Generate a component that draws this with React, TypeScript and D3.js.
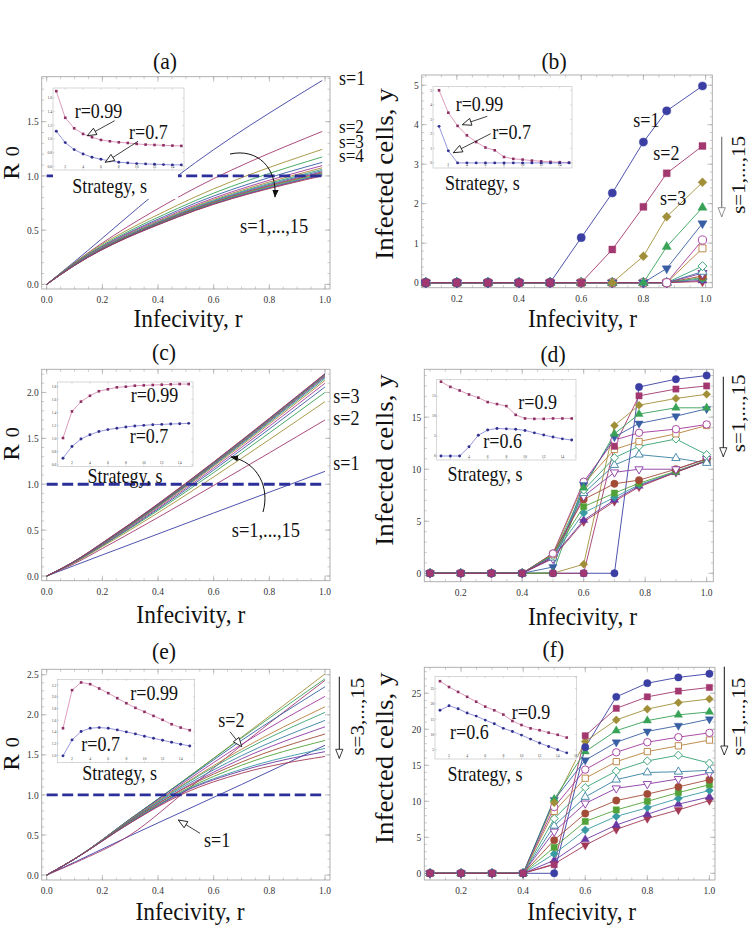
import React from "react";
import * as d3 from "d3";

const FONT = '"Liberation Serif", "Times New Roman", serif';
const SQ = 0.9; // the reference text is slightly condensed horizontally

// Mathematica-like default colours and markers for s = 1..15
const SERIES_COLORS = [
  "#3b3fa3", "#a2386f", "#a18e38", "#38a257", "#385ea3",
  "#a2389c", "#b8803c", "#38a275", "#3880a3", "#8a38a3",
  "#a24c38", "#52a238", "#389aa3", "#6a38a3", "#a23854",
];
const MARKERS = [
  "circle", "square", "diamond", "up", "down",
  "ocircle", "osquare", "odiamond", "oup", "odown",
  "circle", "square", "diamond", "up", "down",
];
const STRATEGY = [1, 2, 3, 4, 5, 6, 7, 8, 9, 10, 11, 12, 13, 14, 15];

// ---------- panel (a): R0 vs r ----------
const rA = [0, 0.1, 0.47, 0.99];
const r0A = [
  [0, 0.21, 1.0, 1.88],
  [0, 0.2, 0.8, 1.41],
  [0, 0.2, 0.73, 1.245],
  [0, 0.195, 0.7, 1.175],
  [0, 0.19, 0.68, 1.125],
  [0, 0.19, 0.665, 1.095],
  [0, 0.185, 0.655, 1.075],
  [0, 0.185, 0.648, 1.06],
  [0, 0.18, 0.642, 1.048],
  [0, 0.18, 0.637, 1.038],
  [0, 0.178, 0.633, 1.03],
  [0, 0.177, 0.629, 1.022],
  [0, 0.176, 0.625, 1.015],
  [0, 0.175, 0.622, 1.008],
  [0, 0.174, 0.619, 1.0],
];
const insetA99 = [1.7, 1.31, 1.156, 1.073, 1.025, 0.985, 0.966, 0.951, 0.941, 0.927, 0.917, 0.912, 0.907, 0.902, 0.898];
const insetA70 = [1.112, 0.946, 0.844, 0.78, 0.732, 0.702, 0.678, 0.659, 0.649, 0.639, 0.634, 0.63, 0.624, 0.62, 0.62];

// ---------- panel (b): infected cells vs r ----------
const rB = [0.1, 0.2, 0.3, 0.4, 0.5, 0.6, 0.7, 0.8, 0.875, 0.99];
const cellsB = [
  [0, 0, 0, 0, 0, 1.14, 2.27, 3.56, 4.35, 4.98],
  [0, 0, 0, 0, 0, 0, 0.84, 1.92, 2.77, 3.46],
  [0, 0, 0, 0, 0, 0, 0, 0.67, 1.67, 2.54],
  [0, 0, 0, 0, 0, 0, 0, 0, 0.91, 1.9],
  [0, 0, 0, 0, 0, 0, 0, 0, 0.36, 1.5],
  [0, 0, 0, 0, 0, 0, 0, 0, 0, 1.08],
  [0, 0, 0, 0, 0, 0, 0, 0, 0, 0.87],
  [0, 0, 0, 0, 0, 0, 0, 0, 0, 0.42],
  [0, 0, 0, 0, 0, 0, 0, 0, 0, 0.28],
  [0, 0, 0, 0, 0, 0, 0, 0, 0, 0.24],
  [0, 0, 0, 0, 0, 0, 0, 0, 0, 0.17],
  [0, 0, 0, 0, 0, 0, 0, 0, 0, 0.13],
  [0, 0, 0, 0, 0, 0, 0, 0, 0, 0.1],
  [0, 0, 0, 0, 0, 0, 0, 0, 0, 0.06],
  [0, 0, 0, 0, 0, 0, 0, 0, 0, 0.03],
];
const insetB99 = [5.0, 3.46, 2.55, 1.9, 1.44, 1.06, 0.87, 0.41, 0.28, 0.23, 0.16, 0.11, 0.07, 0.05, 0.02];
const insetB70 = [2.52, 0.83, 0, 0, 0, 0, 0, 0, 0, 0, 0, 0, 0, 0, 0];

// ---------- panel (c): R0 vs r ----------
const rC = [0, 0.1, 0.2, 1.0];
const r0C = [
  [0, 0.115, 0.23, 1.14],
  [0, 0.135, 0.3, 1.7],
  [0, 0.145, 0.32, 1.9],
  [0, 0.15, 0.33, 2.0],
  [0, 0.152, 0.335, 2.06],
  [0, 0.154, 0.34, 2.1],
  [0, 0.155, 0.345, 2.13],
  [0, 0.156, 0.348, 2.15],
  [0, 0.157, 0.35, 2.165],
  [0, 0.158, 0.352, 2.175],
  [0, 0.159, 0.354, 2.185],
  [0, 0.16, 0.356, 2.19],
  [0, 0.16, 0.358, 2.195],
  [0, 0.161, 0.36, 2.2],
  [0, 0.162, 0.362, 2.205],
];
const insetC99 = [1.01, 1.42, 1.57, 1.66, 1.73, 1.76, 1.79, 1.8, 1.815, 1.82, 1.826, 1.83, 1.836, 1.84, 1.84];
const insetC70 = [0.7, 0.88, 0.995, 1.06, 1.11, 1.14, 1.16, 1.18, 1.195, 1.205, 1.215, 1.22, 1.226, 1.23, 1.236];

// ---------- panel (d): infected cells vs r ----------
const rD = [0.1, 0.2, 0.3, 0.4, 0.5, 0.6, 0.7, 0.78, 0.9, 1.0];
const cellsD = [
  [0, 0, 0, 0, 0, 0, 0, 17.9, 18.65, 19.0],
  [0, 0, 0, 0, 0, 0, 12.2, 17.05, 17.7, 18.0],
  [0, 0, 0, 0, 0, 0.87, 14.2, 16.15, 16.8, 17.2],
  [0, 0, 0, 0, 0.05, 8.2, 13.4, 15.3, 15.9, 15.9],
  [0, 0, 0, 0, 0.6, 8.5, 13.1, 14.4, 15.1, 15.8],
  [0, 0, 0, 0, 1.9, 8.8, 12.8, 13.5, 13.85, 14.3],
  [0, 0, 0, 0, 1.8, 8.6, 11.9, 12.66, 13.4, 14.2],
  [0, 0, 0, 0, 1.7, 8.0, 11.1, 12.2, 12.9, 11.4],
  [0, 0, 0, 0, 1.5, 7.7, 10.4, 11.4, 11.06, 10.6],
  [0, 0, 0, 0, 1.4, 7.4, 9.7, 10.0, 10.0, 11.0],
  [0, 0, 0, 0, 1.9, 7.1, 8.6, 8.95, 10.0, 11.0],
  [0, 0, 0, 0, 1.8, 6.4, 7.7, 8.65, 9.8, 10.85],
  [0, 0, 0, 0, 1.7, 5.8, 7.3, 8.5, 9.75, 10.8],
  [0, 0, 0, 0, 1.6, 5.1, 7.05, 8.4, 9.7, 10.8],
  [0, 0, 0, 0, 1.5, 4.95, 6.9, 8.3, 9.7, 10.8],
];
const insetD90 = [18.6, 17.3, 16.4, 15.4, 14.6, 13.5, 13.0, 12.5, 10.3, 9.4, 9.3, 9.3, 9.4, 9.4, 9.4];
const insetD60 = [0, 0, 0, 2.3, 5.2, 6.5, 6.9, 6.8, 6.7, 6.4, 5.8, 5.25, 4.75, 4.3, 4.0];

// ---------- panel (e): R0 vs r ----------
const rE = [0, 0.1, 0.3, 0.5, 0.7, 1.0];
const r0E = [
  [0, 0.16, 0.49, 0.81, 1.13, 1.62],
  [0, 0.15, 0.5, 1.05, 1.62, 2.43],
  [0, 0.2, 0.7, 1.2, 1.72, 2.51],
  [0, 0.2, 0.7, 1.2, 1.71, 2.45],
  [0, 0.2, 0.7, 1.19, 1.68, 2.35],
  [0, 0.2, 0.69, 1.17, 1.63, 2.23],
  [0, 0.2, 0.69, 1.15, 1.57, 2.1],
  [0, 0.2, 0.68, 1.14, 1.54, 2.03],
  [0, 0.2, 0.68, 1.12, 1.49, 1.93],
  [0, 0.2, 0.67, 1.1, 1.45, 1.85],
  [0, 0.2, 0.67, 1.09, 1.41, 1.76],
  [0, 0.2, 0.66, 1.07, 1.37, 1.68],
  [0, 0.2, 0.66, 1.06, 1.32, 1.58],
  [0, 0.2, 0.65, 1.05, 1.3, 1.54],
  [0, 0.2, 0.65, 1.03, 1.27, 1.48],
];
const insetE99 = [1.463, 2.114, 2.246, 2.217, 2.143, 2.063, 1.977, 1.891, 1.811, 1.743, 1.674, 1.606, 1.531, 1.474, 1.429];
const insetE70 = [0.99, 1.263, 1.406, 1.463, 1.474, 1.463, 1.434, 1.4, 1.366, 1.326, 1.291, 1.257, 1.223, 1.189, 1.16];

// ---------- panel (f): infected cells vs r ----------
const rF = [0.1, 0.2, 0.3, 0.4, 0.5, 0.6, 0.7, 0.8, 0.9, 1.0];
const cellsF = [
  [0, 0, 0, 0, 0, 17.5, 24.5, 26.4, 27.2, 27.7],
  [0, 0, 0, 0, 1.2, 19.1, 22.9, 24.5, 25.3, 25.8],
  [0, 0, 0, 0, 9.8, 18.3, 21.3, 22.8, 23.7, 24.2],
  [0, 0, 0, 0, 10.3, 16.9, 19.8, 21.2, 22.0, 22.4],
  [0, 0, 0, 0, 10.2, 15.7, 18.2, 19.7, 20.5, 21.4],
  [0, 0, 0, 0, 9.2, 14.4, 16.8, 18.2, 18.9, 19.5],
  [0, 0, 0, 0, 8.6, 13.2, 15.5, 16.9, 17.7, 18.5],
  [0, 0, 0, 0, 7.6, 11.9, 14.2, 15.6, 16.4, 15.3],
  [0, 0, 0, 0, 6.6, 10.6, 13.0, 14.0, 14.1, 14.3],
  [0, 0, 0, 0, 5.8, 9.7, 11.8, 12.4, 13.1, 13.9],
  [0, 0, 0, 0, 4.6, 8.3, 10.1, 11.0, 12.0, 13.0],
  [0, 0, 0, 0, 3.6, 7.2, 8.8, 10.0, 11.2, 12.3],
  [0, 0, 0, 0, 2.7, 6.0, 7.9, 9.1, 10.4, 11.5],
  [0, 0, 0, 0, 1.8, 4.7, 6.7, 8.2, 9.6, 10.6],
  [0, 0, 0, 0, 1.3, 3.9, 6.1, 7.6, 8.8, 10.1],
];
const insetF90 = [27.4, 25.5, 23.9, 22.3, 20.7, 19.1, 17.9, 16.5, 14.4, 13.1, 12.0, 11.4, 10.6, 9.9, 9.0];
const insetF60 = [17.9, 19.4, 18.4, 17.0, 16.0, 14.7, 13.5, 12.0, 11.0, 9.8, 8.5, 7.2, 6.1, 5.0, 4.0];

// ---------- tick labels ----------
const xTicksLeft = [0, 0.2, 0.4, 0.6, 0.8, 1.0];
const xTicksRight = [0.2, 0.4, 0.6, 0.8, 1.0];
const yTicksA = [0, 0.5, 1.0, 1.5];
const yTicksC = [0, 0.5, 1.0, 1.5, 2.0];
const yTicksE = [0, 0.5, 1.0, 1.5, 2.0, 2.5];
const yTicksB = [0, 1, 2, 3, 4, 5];
const yTicksD = [0, 5, 10, 15];
const yTicksF = [0, 5, 10, 15, 20, 25];
const insetXTicks = [2, 4, 6, 8, 10, 12, 14];
const insetXTicksF = [2, 4, 6, 8, 10, 12, 14, 16];
const insetYTicksA = [0.6, 0.8, 1.0, 1.2, 1.4, 1.6];
const insetYTicksB = [0, 1, 2, 3, 4, 5];
const insetYTicksC = [0.6, 0.8, 1.0, 1.2, 1.4, 1.6, 1.8];
const insetYTicksD = [0, 5, 10, 15];
const insetYTicksE = [1.0, 1.2, 1.4, 1.6, 1.8, 2.0, 2.2];
const insetYTicksF = [5, 10, 15, 20, 25];

type Box = { l: number; r: number; t: number; b: number };

function minorTicks(dom: number[], step: number) {
  const a = Math.ceil(dom[0] / step - 1e-9);
  const b = Math.floor(dom[1] / step + 1e-9);
  return d3.range(a, b + 1).map((i) => +(i * step).toFixed(6));
}

function Txt({ x, y, size, anchor = "middle", rot = 0, fill = "#111", children }: any) {
  const tr = rot
    ? `translate(${x},${y}) rotate(${rot}) scale(1,${SQ})`
    : `translate(${x},${y}) scale(${SQ},1)`;
  return (
    <text transform={tr} fontSize={size} textAnchor={anchor} fontFamily={FONT} fill={fill}>
      {children}
    </text>
  );
}

function Axes({ fr, xs, ys, xMajor, yMajor, xMinorStep, yMinorStep, xFmt, yFmt }: any) {
  const col = "#9a9a9a";
  const xMin = minorTicks(xs.domain(), xMinorStep);
  const yMin = minorTicks(ys.domain(), yMinorStep);
  return (
    <g>
      <rect x={fr.l} y={fr.t} width={fr.r - fr.l} height={fr.b - fr.t} fill="white" stroke="#a8a8a8" strokeWidth={0.9} />
      {xMin.map((v) => (
        <g key={"xm" + v} stroke={col} strokeWidth={0.5}>
          <line x1={xs(v)} x2={xs(v)} y1={fr.b} y2={fr.b - 2.5} />
          <line x1={xs(v)} x2={xs(v)} y1={fr.t} y2={fr.t + 2.5} />
        </g>
      ))}
      {yMin.map((v) => (
        <g key={"ym" + v} stroke={col} strokeWidth={0.5}>
          <line x1={fr.l} x2={fr.l + 2.5} y1={ys(v)} y2={ys(v)} />
          <line x1={fr.r} x2={fr.r - 2.5} y1={ys(v)} y2={ys(v)} />
        </g>
      ))}
      {xMajor.map((v: number) => (
        <g key={"xM" + v}>
          <line x1={xs(v)} x2={xs(v)} y1={fr.b} y2={fr.b - 5} stroke={col} strokeWidth={0.6} />
          <line x1={xs(v)} x2={xs(v)} y1={fr.t} y2={fr.t + 5} stroke={col} strokeWidth={0.6} />
          <Txt x={xs(v)} y={fr.b + 14} size={10.5} fill="#333">{xFmt(v)}</Txt>
        </g>
      ))}
      {yMajor.map((v: number) => (
        <g key={"yM" + v}>
          <line x1={fr.l} x2={fr.l + 5} y1={ys(v)} y2={ys(v)} stroke={col} strokeWidth={0.6} />
          <line x1={fr.r} x2={fr.r - 5} y1={ys(v)} y2={ys(v)} stroke={col} strokeWidth={0.6} />
          <Txt x={fr.l - 3} y={ys(v) + 3.6} size={10.5} anchor="end" fill="#333">{yFmt(v)}</Txt>
        </g>
      ))}
    </g>
  );
}

function Marker({ shape, x, y, color, size }: any) {
  const open = shape.startsWith("o");
  const base = open ? shape.slice(1) : shape;
  let type: any = d3.symbolCircle;
  let area = Math.PI * (size / 2) * (size / 2);
  let rot = 0;
  if (base === "square") { type = d3.symbolSquare; area = size * size * 0.72; }
  if (base === "diamond") { type = d3.symbolSquare; area = size * size * 0.6; rot = 45; }
  if (base === "up") { type = d3.symbolTriangle; area = size * size * 0.55; }
  if (base === "down") { type = d3.symbolTriangle; area = size * size * 0.55; rot = 180; }
  const d = d3.symbol(type, area)() as string;
  return (
    <path
      d={d}
      transform={`translate(${x},${y}) rotate(${rot})`}
      fill={open ? "white" : color}
      stroke={color}
      strokeWidth={open ? 0.9 : 0.4}
    />
  );
}

function LinePanel({ xs, ys, rs, series, clip }: any) {
  const gen = d3.line<number>().x((_, i) => xs(rs[i])).y((v) => ys(v)).curve(d3.curveMonotoneX);
  return (
    <g clipPath={`url(#${clip})`}>
      {series.map((vals: number[], i: number) => (
        <path key={i} d={gen(vals) as string} fill="none" stroke={SERIES_COLORS[i]} strokeWidth={0.9} />
      ))}
    </g>
  );
}

function MarkerPanel({ xs, ys, rs, series, size }: any) {
  const gen = d3.line<number>().x((_, i) => xs(rs[i])).y((v) => ys(v));
  // drawing order so that s=2 squares end up on top of the zero row, as in the figure
  const order = [14, 13, 12, 11, 10, 9, 8, 7, 6, 5, 4, 3, 2, 0, 1];
  return (
    <g>
      {series.map((vals: number[], i: number) => (
        <path key={i} d={gen(vals) as string} fill="none" stroke={SERIES_COLORS[i]} strokeWidth={0.9} />
      ))}
      {order.map((i) => (
        <g key={"m" + i}>
          {series[i].map((v: number, j: number) => (
            <Marker key={j} shape={MARKERS[i]} x={xs(rs[j])} y={ys(v)} color={SERIES_COLORS[i]} size={size} />
          ))}
        </g>
      ))}
    </g>
  );
}

function Inset({ fr, xDom, yDom, xTicks, yTicks, yFmt, upper, lower, bg }: any) {
  const xs = d3.scaleLinear().domain(xDom).range([fr.l, fr.r]);
  const ys = d3.scaleLinear().domain(yDom).range([fr.b, fr.t]);
  const gen = d3.line<number>().x((_, i) => xs(STRATEGY[i])).y((v) => ys(v));
  const yMin = d3.min(yDom as number[]) as number;
  const yMax = d3.max(yDom as number[]) as number;
  return (
    <g>
      <rect x={bg.l} y={bg.t} width={bg.r - bg.l} height={bg.b - bg.t} fill="white" />
      <rect x={fr.l} y={fr.t} width={fr.r - fr.l} height={fr.b - fr.t} fill="white" stroke="#bdbdbd" strokeWidth={0.6} />
      {xTicks.filter((t: number) => t <= xDom[1]).map((t: number) => (
        <g key={"x" + t}>
          <line x1={xs(t)} x2={xs(t)} y1={fr.b} y2={fr.b - 1.8} stroke="#aaa" strokeWidth={0.4} />
          <line x1={xs(t)} x2={xs(t)} y1={fr.t} y2={fr.t + 1.8} stroke="#aaa" strokeWidth={0.4} />
          <text x={xs(t)} y={fr.b - 2.4} fontSize={3.8} textAnchor="middle" fontFamily={FONT} fill="#444">{t}</text>
        </g>
      ))}
      {yTicks.filter((t: number) => t >= yMin && t <= yMax).map((t: number) => (
        <g key={"y" + t}>
          <line x1={fr.l} x2={fr.l + 1.8} y1={ys(t)} y2={ys(t)} stroke="#aaa" strokeWidth={0.4} />
          <line x1={fr.r} x2={fr.r - 1.8} y1={ys(t)} y2={ys(t)} stroke="#aaa" strokeWidth={0.4} />
          <text x={fr.l - 0.8} y={ys(t) + 1.4} fontSize={3.8} textAnchor="end" fontFamily={FONT} fill="#444">{yFmt(t)}</text>
        </g>
      ))}
      <path d={gen(upper) as string} fill="none" stroke="#d283ab" strokeWidth={0.8} />
      <path d={gen(lower) as string} fill="none" stroke="#7c7cd6" strokeWidth={0.8} />
      {upper.map((v: number, i: number) => (
        <rect key={"u" + i} x={xs(STRATEGY[i]) - 1.3} y={ys(v) - 1.3} width={2.6} height={2.6} fill="#8e2f64" />
      ))}
      {lower.map((v: number, i: number) => (
        <circle key={"l" + i} cx={xs(STRATEGY[i])} cy={ys(v)} r={1.45} fill="#30308e" />
      ))}
    </g>
  );
}

const f1 = d3.format(".1f");
const f0 = d3.format("d");

export default function App() {
  // ----- frames -----
  const frA: Box = { l: 41.7, r: 330, t: 76.7, b: 289 };
  const frC: Box = { l: 41.7, r: 330, t: 369.3, b: 580.7 };
  const frE: Box = { l: 41.7, r: 330, t: 669.3, b: 880 };
  const frB: Box = { l: 421.7, r: 712.3, t: 75, b: 287.7 };
  const frD: Box = { l: 424.3, r: 713.3, t: 369.3, b: 581.7 };
  const frF: Box = { l: 424.3, r: 715, t: 667.3, b: 880 };

  const xLeft = (fr: Box) => d3.scaleLinear().domain([-0.018, 1.018]).range([fr.l, fr.r]);
  const xsA = xLeft(frA);
  const xsC = xLeft(frC);
  const xsE = xLeft(frE);
  const ysA = d3.scaleLinear().domain([-0.043, 1.915]).range([frA.b, frA.t]);
  const ysC = d3.scaleLinear().domain([-0.051, 2.252]).range([frC.b, frC.t]);
  const ysE = d3.scaleLinear().domain([-0.062, 2.568]).range([frE.b, frE.t]);

  const xsB = d3.scaleLinear().domain([0.087, 1.0216]).range([frB.l, frB.r]);
  const ysB = d3.scaleLinear().domain([-0.127, 5.258]).range([frB.b, frB.t]);
  const xsD = d3.scaleLinear().domain([0.0815, 1.0216]).range([frD.l, frD.r]);
  const ysD = d3.scaleLinear().domain([-0.81, 19.6]).range([frD.b, frD.t]);
  const xsF = d3.scaleLinear().domain([0.0816, 1.018]).range([frF.l, frF.r]);
  const ysF = d3.scaleLinear().domain([-0.93, 28.6]).range([frF.b, frF.t]);

  const dashed = (xs: any, ys: any) => (
    <line x1={xs(0)} x2={xs(1)} y1={ys(1)} y2={ys(1)} stroke="#2b2f9a" strokeWidth={2.8} strokeDasharray="11,4.5" />
  );

  const yLabelR0 = (cy: number) => (
    <text transform={`translate(19,${cy}) rotate(-90) scale(1,${SQ})`} fontFamily={FONT} fontSize={25} textAnchor="middle" fill="#111">
      R<tspan dx={7} fontSize={20}>0</tspan>
    </text>
  );

  return (
    <div>
      <style>{`body{margin:0;background:#fff}`}</style>
      <svg width={750} height={929} viewBox="0 0 750 929" style={{ display: "block", background: "white" }}>
        <defs>
          {[frA, frC, frE].map((fr, i) => (
            <clipPath key={i} id={"clip" + i}>
              <rect x={fr.l} y={fr.t} width={fr.r - fr.l} height={fr.b - fr.t} />
            </clipPath>
          ))}
          <marker id="headFill" viewBox="0 0 10 8" refX={9} refY={4} markerWidth={8} markerHeight={6.4} markerUnits="userSpaceOnUse" orient="auto">
            <path d="M0,0 L10,4 L0,8 z" fill="#111" />
          </marker>
          <marker id="headOpen" viewBox="0 0 12 10" refX={11} refY={5} markerWidth={11} markerHeight={9} markerUnits="userSpaceOnUse" orient="auto">
            <path d="M1,1 L11,5 L1,9 z" fill="white" stroke="#111" strokeWidth={0.9} />
          </marker>
          <marker id="headGray" viewBox="0 0 12 10" refX={11} refY={5} markerWidth={11} markerHeight={9} markerUnits="userSpaceOnUse" orient="auto">
            <path d="M1,1 L11,5 L1,9 z" fill="white" stroke="#777" strokeWidth={0.9} />
          </marker>
        </defs>

        {/* ================= (a) ================= */}
        <Txt x={165} y={69} size={24}>(a)</Txt>
        <Axes fr={frA} xs={xsA} ys={ysA} xMajor={xTicksLeft} yMajor={yTicksA} xMinorStep={0.05} yMinorStep={0.1} xFmt={f1} yFmt={f1} />
        <LinePanel xs={xsA} ys={ysA} rs={rA} series={r0A} clip="clip0" />
        {dashed(xsA, ysA)}
        <Inset
          fr={{ l: 53, r: 184, t: 88, b: 170 }}
          bg={{ l: 53, r: 178, t: 86, b: 199 }}
          xDom={[0.63, 15.3]} yDom={[0.545, 1.746]}
          xTicks={insetXTicks} yTicks={insetYTicksA} yFmt={f1}
          upper={insetA99} lower={insetA70}
        />
        <Txt x={74.7} y={118.3} size={20} anchor="start">r=0.99</Txt>
        <Txt x={129} y={139} size={20} anchor="start">r=0.7</Txt>
        <line x1={114.7} y1={120.7} x2={87.3} y2={135.7} stroke="#111" strokeWidth={0.8} markerEnd="url(#headOpen)" />
        <line x1={138} y1={141.3} x2={105.3} y2={162.3} stroke="#111" strokeWidth={0.8} markerEnd="url(#headOpen)" />
        <Txt x={109.7} y={193.3} size={20}>Strategy, s</Txt>
        <Txt x={339} y={85} size={20} anchor="start">s=1</Txt>
        <Txt x={339} y={133} size={19} anchor="start">s=2</Txt>
        <Txt x={339} y={147.5} size={19} anchor="start">s=3</Txt>
        <Txt x={339} y={161.5} size={19} anchor="start">s=4</Txt>
        <Txt x={240} y={233.3} size={20.5} anchor="start">s=1,...,15</Txt>
        <path d="M230,154 C258,148 277,168 275,197" fill="none" stroke="#111" strokeWidth={1} markerEnd="url(#headFill)" />
        {yLabelR0(163)}
        <Txt x={188} y={326.7} size={26}>Infecivity, r</Txt>

        {/* ================= (b) ================= */}
        <Txt x={554} y={69} size={24}>(b)</Txt>
        <Axes fr={frB} xs={xsB} ys={ysB} xMajor={xTicksRight} yMajor={yTicksB} xMinorStep={0.05} yMinorStep={0.2} xFmt={f1} yFmt={f0} />
        <MarkerPanel xs={xsB} ys={ysB} rs={rB} series={cellsB} size={8.2} />
        <Inset
          fr={{ l: 433, r: 572, t: 86.7, b: 168 }}
          bg={{ l: 427, r: 573, t: 85.7, b: 170 }}
          xDom={[0.35, 15.32]} yDom={[-0.35, 5.25]}
          xTicks={insetXTicks} yTicks={insetYTicksB} yFmt={f0}
          upper={insetB99} lower={insetB70}
        />
        <Txt x={455.7} y={111.3} size={20} anchor="start">r=0.99</Txt>
        <Txt x={492.3} y={138.7} size={20} anchor="start">r=0.7</Txt>
        <line x1={487.3} y1={116.3} x2={462.3} y2={124.7} stroke="#111" strokeWidth={0.8} markerEnd="url(#headOpen)" />
        <line x1={490.7} y1={133.7} x2={453.3} y2={152.7} stroke="#111" strokeWidth={0.8} markerEnd="url(#headOpen)" />
        <Txt x={482.3} y={190.3} size={20}>Strategy, s</Txt>
        <Txt x={633.3} y={126.7} size={20} anchor="start">s=1</Txt>
        <Txt x={653.3} y={160} size={20} anchor="start">s=2</Txt>
        <Txt x={660} y={205} size={20} anchor="start">s=3</Txt>
        <Txt x={745} y={175} size={21} rot={-90}>s=1,...,15</Txt>
        <line x1={721.7} y1={136.7} x2={721.7} y2={216.7} stroke="#777" strokeWidth={1.2} markerEnd="url(#headGray)" />
        <Txt x={393} y={174} size={27} rot={-90}>Infected cells, y</Txt>
        <Txt x={582.5} y={326.7} size={26}>Infecivity, r</Txt>

        {/* ================= (c) ================= */}
        <Txt x={164} y={360} size={24}>(c)</Txt>
        <Axes fr={frC} xs={xsC} ys={ysC} xMajor={xTicksLeft} yMajor={yTicksC} xMinorStep={0.05} yMinorStep={0.1} xFmt={f1} yFmt={f1} />
        <LinePanel xs={xsC} ys={ysC} rs={rC} series={r0C} clip="clip1" />
        {dashed(xsC, ysC)}
        <Inset
          fr={{ l: 57.3, r: 193, t: 382, b: 466.3 }}
          bg={{ l: 51, r: 194, t: 381, b: 467 }}
          xDom={[0.365, 15.48]} yDom={[0.575, 1.872]}
          xTicks={insetXTicks} yTicks={insetYTicksC} yFmt={f1}
          upper={insetC99} lower={insetC70}
        />
        <Txt x={130.7} y={402.3} size={20} anchor="start">r=0.99</Txt>
        <Txt x={129.7} y={443} size={20} anchor="start">r=0.7</Txt>
        <Txt x={125} y={483} size={20}>Strategy, s</Txt>
        <Txt x={333.3} y={403} size={20} anchor="start">s=3</Txt>
        <Txt x={333.3} y={425} size={20} anchor="start">s=2</Txt>
        <Txt x={333.3} y={470} size={20} anchor="start">s=1</Txt>
        <Txt x={231.7} y={536.7} size={20.5} anchor="start">s=1,...,15</Txt>
        <path d="M263,512 C270,488 258,462 231,457" fill="none" stroke="#111" strokeWidth={1} markerEnd="url(#headFill)" />
        {yLabelR0(444)}
        <Txt x={190.8} y={623.3} size={26}>Infecivity, r</Txt>

        {/* ================= (d) ================= */}
        <Txt x={553} y={362} size={24}>(d)</Txt>
        <Axes fr={frD} xs={xsD} ys={ysD} xMajor={xTicksRight} yMajor={yTicksD} xMinorStep={0.05} yMinorStep={1} xFmt={f1} yFmt={f0} />
        <MarkerPanel xs={xsD} ys={ysD} rs={rD} series={cellsD} size={7.4} />
        <Inset
          fr={{ l: 436.7, r: 576, t: 379.3, b: 460 }}
          bg={{ l: 430, r: 577, t: 378.3, b: 461 }}
          xDom={[0.54, 15.46]} yDom={[-1, 19.2]}
          xTicks={insetXTicks} yTicks={insetYTicksD} yFmt={f0}
          upper={insetD90} lower={insetD60}
        />
        <Txt x={518.3} y={408.7} size={20} anchor="start">r=0.9</Txt>
        <Txt x={483.3} y={447.7} size={20} anchor="start">r=0.6</Txt>
        <Txt x={485} y={481} size={20}>Strategy, s</Txt>
        <Txt x={745} y={413.3} size={21} rot={-90}>s=1,...,15</Txt>
        <line x1={723.3} y1={376.7} x2={723.3} y2={456.7} stroke="#111" strokeWidth={1} markerEnd="url(#headOpen)" />
        <Txt x={393} y={460} size={27} rot={-90}>Infected cells, y</Txt>
        <Txt x={582.5} y={625} size={26}>Infecivity, r</Txt>

        {/* ================= (e) ================= */}
        <Txt x={164} y={659} size={24}>(e)</Txt>
        <Axes fr={frE} xs={xsE} ys={ysE} xMajor={xTicksLeft} yMajor={yTicksE} xMinorStep={0.05} yMinorStep={0.1} xFmt={f1} yFmt={f1} />
        <LinePanel xs={xsE} ys={ysE} rs={rE} series={r0E} clip="clip2" />
        {dashed(xsE, ysE)}
        <Inset
          fr={{ l: 57.3, r: 194.7, t: 679.3, b: 762.7 }}
          bg={{ l: 51, r: 196, t: 678.3, b: 763.5 }}
          xDom={[0.37, 15.55]} yDom={[0.873, 2.3]}
          xTicks={insetXTicks} yTicks={insetYTicksE} yFmt={f1}
          upper={insetE99} lower={insetE70}
        />
        <Txt x={130.3} y={700.3} size={20} anchor="start">r=0.99</Txt>
        <Txt x={81.3} y={751} size={20} anchor="start">r=0.7</Txt>
        <Txt x={119.7} y={779.5} size={20}>Strategy, s</Txt>
        <Txt x={218.3} y={726.7} size={20} anchor="start">s=2</Txt>
        <line x1={230} y1={731.7} x2={241.7} y2={746.7} stroke="#111" strokeWidth={0.8} markerEnd="url(#headOpen)" />
        <Txt x={204} y={846.7} size={20} anchor="start">s=1</Txt>
        <line x1={200} y1={833.3} x2={178.3} y2={820} stroke="#111" strokeWidth={0.8} markerEnd="url(#headOpen)" />
        <Txt x={364} y={716.7} size={21} rot={-90}>s=3,...,15</Txt>
        <line x1={339.3} y1={676.7} x2={339.3} y2={758.3} stroke="#111" strokeWidth={1} markerEnd="url(#headOpen)" />
        {yLabelR0(754)}
        <Txt x={190} y={920} size={26}>Infecivity, r</Txt>

        {/* ================= (f) ================= */}
        <Txt x={553.3} y={657} size={24}>(f)</Txt>
        <Axes fr={frF} xs={xsF} ys={ysF} xMajor={xTicksRight} yMajor={yTicksF} xMinorStep={0.05} yMinorStep={1} xFmt={f1} yFmt={f0} />
        <MarkerPanel xs={xsF} ys={ysF} rs={rF} series={cellsF} size={7.4} />
        <Inset
          fr={{ l: 435, r: 576.7, t: 676.3, b: 759 }}
          bg={{ l: 429, r: 577.7, t: 675.3, b: 760 }}
          xDom={[0.45, 16.1]} yDom={[2.0, 29.0]}
          xTicks={insetXTicksF} yTicks={insetYTicksF} yFmt={f0}
          upper={insetF90} lower={insetF60}
        />
        <Txt x={511.7} y={718.7} size={20} anchor="start">r=0.9</Txt>
        <Txt x={450} y={738.7} size={20} anchor="start">r=0.6</Txt>
        <Txt x={485} y={781} size={20}>Strategy, s</Txt>
        <Txt x={745} y={716.7} size={21} rot={-90}>s=1,...,15</Txt>
        <line x1={724.3} y1={666.7} x2={724.3} y2={755} stroke="#111" strokeWidth={1} markerEnd="url(#headOpen)" />
        <Txt x={393} y={758.3} size={27} rot={-90}>Infected cells, y</Txt>
        <Txt x={581.7} y={920} size={26}>Infecivity, r</Txt>
      </svg>
    </div>
  );
}
